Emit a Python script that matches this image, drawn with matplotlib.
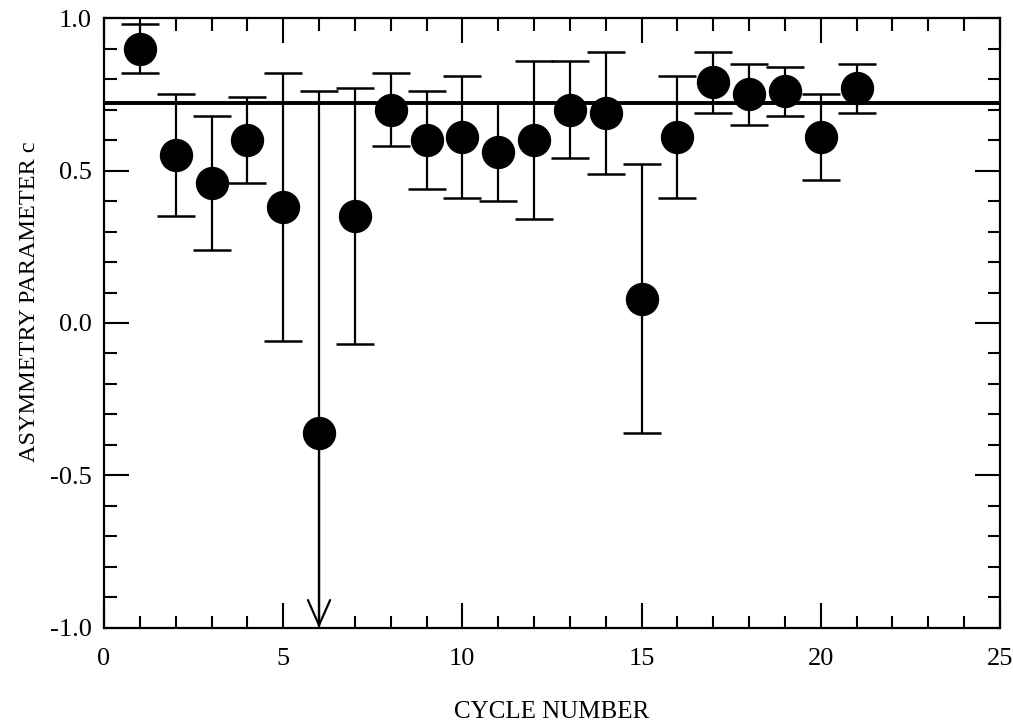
import numpy as np
import matplotlib
matplotlib.use('Agg')
import matplotlib.pyplot as plt
from matplotlib.ticker import MultipleLocator

plt.rcParams['font.family'] = ['Liberation Serif', 'DejaVu Serif']

# Values
cycle = [1, 2, 3, 4, 5, 6, 7, 8, 9, 10, 11, 12, 13, 14, 15, 16, 17, 18, 19, 20, 21]
c_value = [0.90, 0.55, 0.46, 0.60, 0.38, -0.36, 0.35, 0.70, 0.60, 0.61, 0.56,
           0.60, 0.70, 0.69, 0.08, 0.61, 0.79, 0.75, 0.76, 0.61, 0.77]
c_upper = [0.98, 0.75, 0.68, 0.74, 0.82, 0.76, 0.77, 0.82, 0.76, 0.81, 0.72,
           0.86, 0.86, 0.89, 0.52, 0.81, 0.89, 0.85, 0.84, 0.75, 0.85]
c_lower = [0.82, 0.35, 0.24, 0.46, -0.06, -1.00, -0.07, 0.58, 0.44, 0.41, 0.40,
           0.34, 0.54, 0.49, -0.36, 0.41, 0.69, 0.65, 0.68, 0.47, 0.69]
off_scale = [6]  # lower error runs off the bottom of the plot (arrow)
mean_c = 0.72

x = np.array(cycle)
y = np.array(c_value)
hi = np.array(c_upper)
lo = np.array(c_lower)
has_low_cap = ~np.isin(x, off_scale)

fig = plt.figure(figsize=(10.13, 7.25), dpi=100)
ax = fig.add_axes([0.1027, 0.134, 0.8843, 0.841])

ax.axhline(mean_c, color='black', lw=2.8, zorder=2)

# error bars: vertical line + caps
ax.vlines(x, lo, hi, color='black', lw=1.6, zorder=3)
ax.plot(x, hi, ls='none', marker='_', ms=28, mew=1.8, color='black', zorder=3)
ax.plot(x[has_low_cap], lo[has_low_cap], ls='none', marker='_', ms=28, mew=1.8,
        color='black', zorder=3)
for xi in off_scale:
    i = cycle.index(xi)
    ax.annotate('', xy=(xi, -1.0), xytext=(xi, y[i]),
                arrowprops=dict(arrowstyle='->,head_length=0.9,head_width=0.4',
                                lw=1.6, color='black', mutation_scale=20,
                                shrinkA=0, shrinkB=0), zorder=3)

ax.plot(x, y, ls='none', marker='o', ms=23, color='black', zorder=4)

ax.set_xlim(0, 25)
ax.set_ylim(-1.0, 1.0)
ax.xaxis.set_major_locator(MultipleLocator(5))
ax.xaxis.set_minor_locator(MultipleLocator(1))
ax.yaxis.set_major_locator(MultipleLocator(0.5))
ax.yaxis.set_minor_locator(MultipleLocator(0.1))
ax.set_xticks([0, 5, 10, 15, 20, 25])
ax.set_xticklabels(['0', '5', '10', '15', '20', '25'])
ax.set_yticks([-1.0, -0.5, 0.0, 0.5, 1.0])
ax.set_yticklabels(['-1.0', '-0.5', '0.0', '0.5', '1.0'])

ax.tick_params(which='both', direction='in', top=True, right=True,
               width=1.5, labelsize=19, color='black')
ax.tick_params(which='major', length=18)
ax.tick_params(which='minor', length=9)
ax.tick_params(axis='x', pad=14.5)
ax.tick_params(axis='y', pad=9)
for s in ax.spines.values():
    s.set_linewidth(1.6)

ax.set_xlabel('CYCLE NUMBER', fontsize=18, labelpad=22)
ax.set_ylabel('ASYMMETRY PARAMETER c', fontsize=17.5)
ax.yaxis.set_label_coords(-0.071, 0.535)

fig.savefig('out.png', dpi=100)
